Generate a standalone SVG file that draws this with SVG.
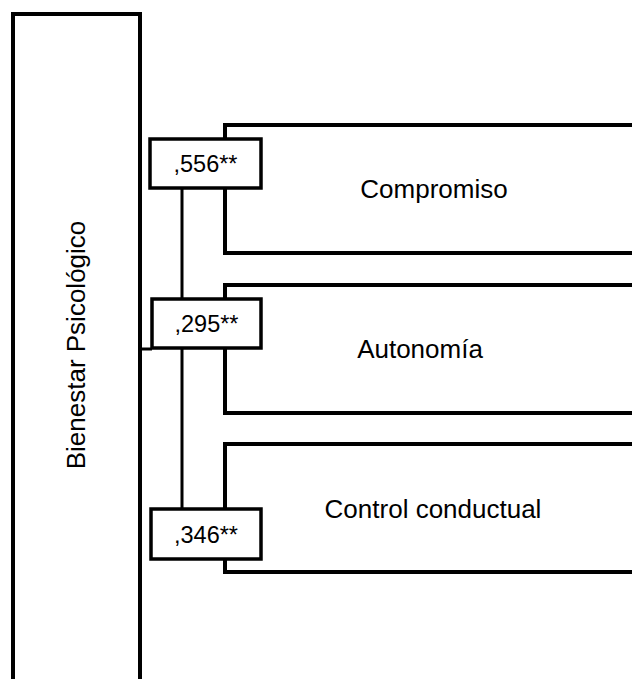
<svg xmlns="http://www.w3.org/2000/svg" width="632" height="679" viewBox="0 0 632 679">
<style>
.frame{fill:none;stroke:#000;stroke-width:4}
.lbl{fill:#fff;stroke:#000;stroke-width:3.5}
.conn{fill:none;stroke:#000;stroke-width:3}
.big{font-family:"Liberation Sans",Arial,sans-serif;font-size:26px;fill:#000;text-anchor:middle}
.num{font-family:"Liberation Sans",Arial,sans-serif;font-size:23.5px;fill:#000;text-anchor:middle}
</style>
<rect width="632" height="679" fill="#fff"/>
<g id="bienestar">
<path class="frame" d="M13,690 V14 H140 V690"/>
<text class="big" transform="translate(85,345) rotate(-90)">Bienestar Psicológico</text>
</g>
<g id="compromiso">
<path class="frame" d="M640,125 H225 V253 H640"/>
<text class="big" x="434" y="198">Compromiso</text>
</g>
<g id="autonomia">
<path class="frame" d="M640,285 H225 V413 H640"/>
<text class="big" x="420" y="358">Autonomía</text>
</g>
<g id="control">
<path class="frame" d="M640,444 H225 V572 H640"/>
<text class="big" x="433" y="518">Control conductual</text>
</g>
<g id="connectors">
<line class="conn" x1="182" y1="188" x2="182" y2="509"/>
<line class="conn" x1="140" y1="349" x2="152" y2="349"/>
</g>
<g id="label1">
<rect class="lbl" x="150" y="139" width="111" height="49"/>
<text class="num" x="205.5" y="172">,556**</text>
</g>
<g id="label2">
<rect class="lbl" x="152" y="299" width="109" height="49"/>
<text class="num" x="206.5" y="332">,295**</text>
</g>
<g id="label3">
<rect class="lbl" x="151" y="509" width="110" height="50"/>
<text class="num" x="206" y="543">,346**</text>
</g>
</svg>
